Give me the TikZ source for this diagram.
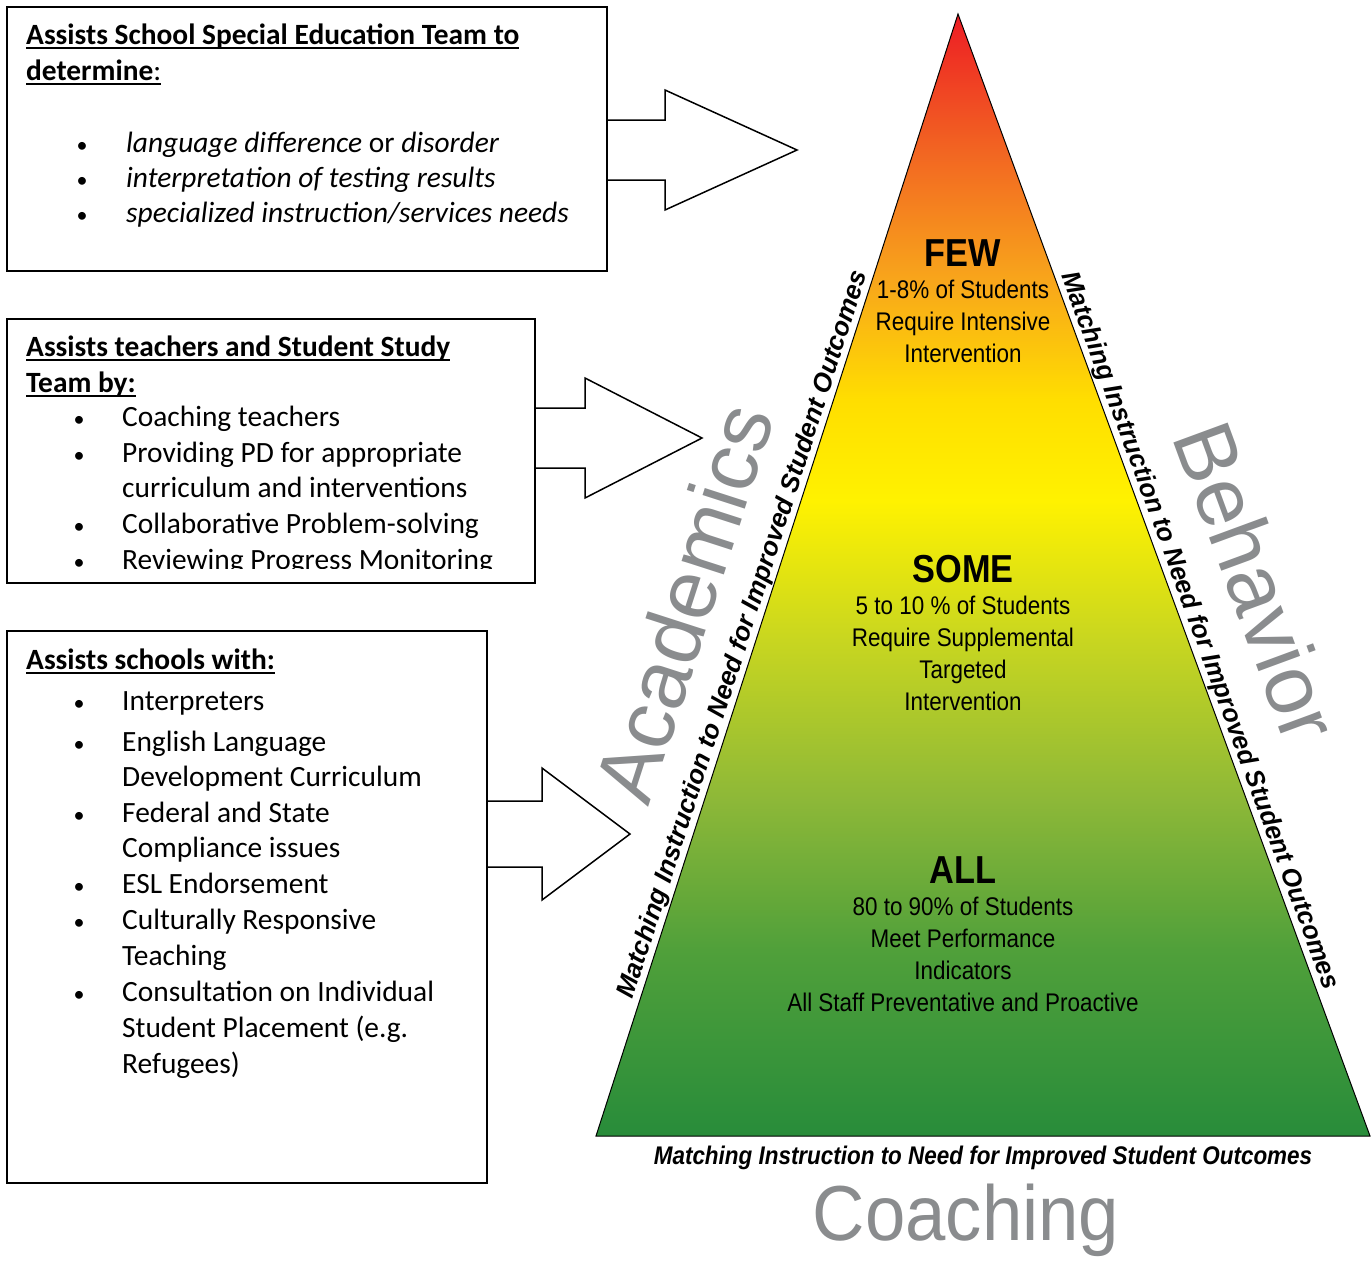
\documentclass[tikz,border=0pt]{standalone}
\usepackage{fontspec}
\setmainfont{Carlito}
\newfontfamily\arialfont{Liberation Sans}
\newfontfamily\narrowfont[FakeStretch=0.88]{Liberation Sans}
\newfontfamily\coachfont[FakeStretch=0.93]{Liberation Sans}
\usetikzlibrary{calc,positioning}

\definecolor{tierred}{RGB}{237,28,36}
\definecolor{tierredorange}{RGB}{242,101,34}
\definecolor{tierorange}{RGB}{248,166,27}
\definecolor{tiergold}{RGB}{255,222,0}
\definecolor{tieryellow}{RGB}{255,242,0}
\definecolor{tieryellowgreen}{RGB}{200,214,32}
\definecolor{tierlime}{RGB}{141,184,56}
\definecolor{tiermidgreen}{RGB}{80,160,58}
\definecolor{tiergreen}{RGB}{40,140,58}
\definecolor{wordgray}{RGB}{138,140,142}

\pgfdeclareverticalshading{tiers}{100bp}{color(0bp)=(tiergreen); color(25bp)=(tiergreen); color(33.3bp)=(tiermidgreen); color(40bp)=(tierlime); color(47.1bp)=(tieryellowgreen); color(53.3bp)=(tieryellow); color(57.8bp)=(tiergold); color(63.1bp)=(tierorange); color(68.9bp)=(tierredorange); color(75bp)=(tierred); color(100bp)=(tierred)}

\newcommand{\headline}[1]{\setbox0\hbox{#1}\rlap{\rule[-4.5pt]{\wd0}{1.6pt}}\box0}

\tikzset{
	infobox/.style={draw, line width=1.5pt, anchor=north west, inner sep=0pt},
	boxtext/.style={anchor=base west, inner sep=0pt, font=\fontsize{29.4}{36}\selectfont},
	bul/.style={anchor=base, inner sep=0pt, font=\fontsize{22}{36}\selectfont},
	tiertitle/.style={anchor=base, inner sep=0pt, font=\narrowfont\bfseries\fontsize{39}{39}\selectfont},
	tiertext/.style={anchor=base, inner sep=0pt, font=\narrowfont\fontsize{25.5}{32}\selectfont},
	sidetext/.style={anchor=base, inner sep=0pt, font=\arialfont\bfseries\itshape\fontsize{26}{26}\selectfont},
	bigword/.style={anchor=base, inner sep=0pt, text=wordgray, font=\arialfont\fontsize{84}{84}\selectfont},
	blockarrow/.style={draw, line width=1.5pt, line join=miter}
}

\begin{document}
\begin{tikzpicture}[x=1pt,y=-1pt]
	\useasboundingbox (0,0) rectangle (1372,1262);
	
	% pyramid
	\coordinate (apex) at (958,14);
	\coordinate (bl) at (596,1136);
	\coordinate (br) at (1370,1136);
	\shade[shading=tiers] (apex) -- (br) -- (bl) -- cycle;
	\draw[line width=1pt] (apex) -- (br) -- (bl) -- cycle;
	
	\node[tiertitle] (few) at (963,266) {FEW};
	\foreach \t [count=\i] in {1-8\% of Students, Require Intensive, Intervention}
	\node[tiertext] (few\i) at (963,266+32*\i) {\t};
	\node[tiertitle] (some) at (963,582) {SOME};
	\foreach \t [count=\i] in {5 to 10 \% of Students, Require Supplemental, Targeted, Intervention}
	\node[tiertext] (some\i) at (963,582+32*\i) {\t};
	\node[tiertitle] (all) at (963,883) {ALL};
	\foreach \t [count=\i] in {80 to 90\% of Students, Meet Performance, Indicators, All Staff Preventative and Proactive}
	\node[tiertext] (all\i) at (963,883+32*\i) {\t};
	
	% side labels
	\node[sidetext, rotate=72.1] (acadline) at (750,637) {Matching Instruction to Need for Improved Student Outcomes};
	\node[sidetext, rotate=-69.8] (behavline) at (1193,633) {Matching Instruction to Need for Improved Student Outcomes};
	\node[tiertext, font=\narrowfont\bfseries\itshape\fontsize{25.5}{32}\selectfont] (coachline) at (983,1164) {Matching Instruction to Need for Improved Student Outcomes};
	\node[bigword, rotate=72.1] (acad) at (712,612) {Academics};
	\node[bigword, rotate=-69.8] (behav) at (1229,592) {Behavior};
	\node[bigword, font=\coachfont\fontsize{78}{78}\selectfont] (coach) at (966,1240) {Coaching};
	
	% boxes
	\node[infobox, minimum width=600pt, minimum height=264pt] (spedbox) at (6,6) {};
	\node[boxtext] (sped1) at (26,44) {\headline{\bfseries Assists School Special Education Team to}};
	\node[boxtext] (sped2) at (26,80) {\headline{\textbf{determine}:}};
	\foreach \y/\t in {152/{\textit{language difference} or \textit{disorder}}, 187/{\textit{interpretation of testing results}}, 222/{\textit{specialized instruction/services needs}}}
	{\node[bul] (spedb\y) at (82,\y) {\textbullet};
		\node[boxtext] (spedt\y) at (126,\y) {\t};}
	
	\node[infobox, minimum width=528pt, minimum height=264pt] (sstbox) at (6,318) {};
	\node[boxtext] (sst1) at (26,356) {\headline{\bfseries Assists teachers and Student Study}};
	\node[boxtext] (sst2) at (26,392) {\headline{\bfseries Team by:}};
	\foreach \y in {426,462,533,569}
	\node[bul] (sstb\y) at (79,\y) {\textbullet};
	\foreach \y/\t in {426/Coaching teachers, 462/Providing PD for appropriate, 497/curriculum and interventions, 533/Collaborative Problem-solving}
	\node[boxtext] (sstt\y) at (122,\y) {\t};
	\begin{scope}
		\clip (6,318) rectangle (534,568);
		\node[boxtext] (sstt569) at (122,569) {Reviewing Progress Monitoring};
	\end{scope}
	
	\node[infobox, minimum width=480pt, minimum height=552pt] (schoolbox) at (6,630) {};
	\node[boxtext] (school1) at (26,669) {\headline{\bfseries Assists schools with:}};
	\foreach \y in {710,751,822,893,929,1001}
	\node[bul] (schoolb\y) at (79,\y) {\textbullet};
	\foreach \y/\t in {710/Interpreters, 751/English Language, 786/Development Curriculum, 822/Federal and State, 857/Compliance issues, 893/ESL Endorsement, 929/Culturally Responsive, 965/Teaching, 1001/Consultation on Individual, 1037/Student Placement (e.g., 1073/Refugees)}
	\node[boxtext] (schoolt\y) at (122,\y) {\t};
	
	% block arrows: box edge / centre / head x / tip x / head height
	\foreach \bx/\yc/\hx/\tx/\hh in {606/150/665/797/60, 534/438/585/702/60, 486/834/542/630/66}
	\draw[blockarrow] (\bx,\yc-\hh/2) -- (\hx,\yc-\hh/2) -- (\hx,\yc-\hh) -- (\tx,\yc) -- (\hx,\yc+\hh) -- (\hx,\yc+\hh/2) -- (\bx,\yc+\hh/2);
\end{tikzpicture}
\end{document}
